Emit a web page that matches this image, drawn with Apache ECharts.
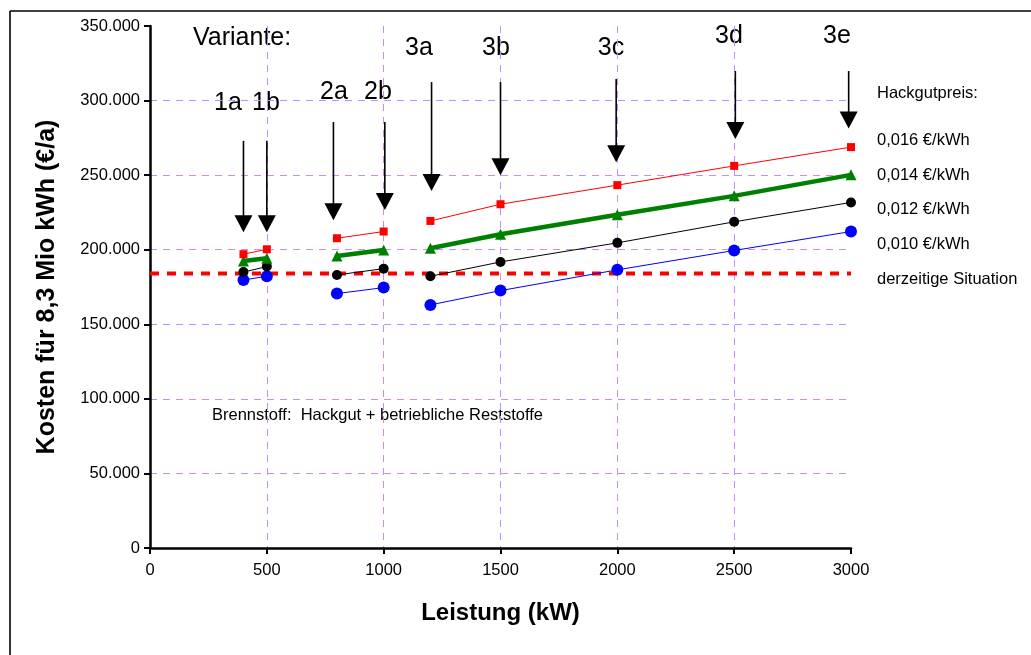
<!DOCTYPE html>
<html>
<head>
<meta charset="utf-8">
<script src="https://cdn.jsdelivr.net/npm/echarts@6/dist/echarts.min.js"></script>
<style>
  html, body { margin: 0; padding: 0; background: #ffffff; }
  #chart { width: 1031px; height: 655px; }
</style>
</head>
<body>
<div id="chart"></div>
<script>
// Leistung der Varianten (kW)
const leistung = [400, 500, 800, 1000, 1200, 1500, 2000, 2500, 3000];
// Index, an dem eine neue Variantengruppe beginnt (1x, 2x, 3x)
const gruppenStart = [2, 4];

// Jahreskosten (€/a) je Hackgutpreis
const preis016 = [197000, 200300, 207700, 212200, 219300, 230500, 243300, 256200, 268800];
const preis014 = [192500, 194300, 195800, 199800, 201000, 210400, 223400, 236100, 250200];
const preis012 = [185000, 188700, 183100, 187300, 182200, 191800, 204600, 218700, 231700];
const preis010 = [179700, 182200, 170600, 174600, 163000, 172600, 186500, 199500, 212200];

// derzeitige Situation (€/a)
const situationX = [0, 3000];
const situationKosten = [184000, 184000];

// Variantenpfeile: Leistung, Pfeilanfang, Pfeilspitze (€/a)
const variantenNamen = ['1a', '1b', '2a', '2b', '3a', '3b', '3c', '3d', '3e'];
const pfeilX = [400, 500, 785, 1005, 1205, 1500, 1995, 2505, 2990];
const pfeilOben = [273000, 273000, 285600, 285600, 312400, 312400, 314400, 319800, 319800];
const pfeilSpitze = [211700, 211700, 219800, 226700, 239300, 250000, 258700, 274200, 281200];

const legendenTexte = ['Hackgutpreis:', '0,016 €/kWh', '0,014 €/kWh', '0,012 €/kWh', '0,010 €/kWh', 'derzeitige Situation'];
const hinweisText = 'Brennstoff:  Hackgut + betriebliche Reststoffe';
const xTitel = 'Leistung (kW)';
const yTitel = 'Kosten für 8,3 Mio kWh (€/a)';

// Pixelpositionen der Beschriftungen
const variantenPos = [[228, 103], [266, 103], [334, 92], [378, 92], [419, 48], [496, 48], [611, 48], [729, 36], [837, 36]];
const legendenY = [93, 140, 175, 209, 244, 279];

const FONT = '"Liberation Sans", Arial, sans-serif';

function mitLuecken(werte) {
  const out = [];
  werte.forEach((v, i) => {
    if (gruppenStart.includes(i)) out.push([(leistung[i - 1] + leistung[i]) / 2, null]);
    out.push([leistung[i], v]);
  });
  return out;
}

function tausender(v) {
  return String(v).replace(/\B(?=(\d{3})+(?!\d))/g, '.');
}

const chart = echarts.init(document.getElementById('chart'), null, { renderer: 'canvas' });

const gridLine = { show: true, lineStyle: { color: '#c38cff', width: 1, type: [7, 6] }, showMaxLine: false };

const graphics = [
  { type: 'line', shape: { x1: 10, y1: 11, x2: 10, y2: 655 }, style: { stroke: '#000', lineWidth: 1.6 } },
  { type: 'line', shape: { x1: 10, y1: 11, x2: 1031, y2: 11 }, style: { stroke: '#000', lineWidth: 1.6 } },
  { type: 'text', x: 193, y: 38, style: { text: 'Variante:', font: '25px ' + FONT, fill: '#000', verticalAlign: 'middle' } },
  { type: 'text', x: 212, y: 415, style: { text: hinweisText, font: '16.5px ' + FONT, fill: '#000', verticalAlign: 'middle' } }
];
variantenNamen.forEach((n, i) => {
  graphics.push({ type: 'text', x: variantenPos[i][0], y: variantenPos[i][1],
    style: { text: n, font: '25px ' + FONT, fill: '#000', align: 'center', verticalAlign: 'middle' } });
});
legendenTexte.forEach((t, i) => {
  graphics.push({ type: 'text', x: 877, y: legendenY[i],
    style: { text: t, font: '16.5px ' + FONT, fill: '#000', verticalAlign: 'middle' } });
});

function linienSerie(name, werte, farbe, breite, symbol, groesse) {
  return {
    name, type: 'line', data: mitLuecken(werte), connectNulls: false,
    symbol, symbolSize: groesse, showSymbol: true,
    lineStyle: { color: farbe, width: breite },
    itemStyle: { color: farbe, borderWidth: 0 },
    emphasis: { disabled: true }, z: 3
  };
}

chart.setOption({
  animation: false,
  backgroundColor: '#ffffff',
  textStyle: { fontFamily: FONT },
  grid: { left: 150, right: 180, top: 26, bottom: 107 },
  xAxis: {
    type: 'value', min: 0, max: 3000, interval: 500,
    axisLine: { show: true, lineStyle: { color: '#000', width: 2.5 } },
    axisTick: { show: true, length: 6, lineStyle: { color: '#000', width: 2 } },
    axisLabel: { color: '#000', fontSize: 16.5, margin: 14, fontFamily: FONT, formatter: (v) => String(v) },
    splitLine: gridLine,
    name: xTitel, nameLocation: 'middle', nameGap: 53,
    nameTextStyle: { color: '#000', fontSize: 24, fontWeight: 'bold', fontFamily: FONT }
  },
  yAxis: {
    type: 'value', min: 0, max: 350000, interval: 50000,
    axisLine: { show: true, lineStyle: { color: '#000', width: 2.5 } },
    axisTick: { show: true, length: 6, lineStyle: { color: '#000', width: 2 } },
    axisLabel: { color: '#000', fontSize: 16.5, margin: 10, fontFamily: FONT, formatter: tausender },
    splitLine: gridLine,
    name: yTitel, nameLocation: 'middle', nameGap: 90, nameRotate: 90,
    nameTextStyle: { color: '#000', fontSize: 25, fontWeight: 'bold', fontFamily: FONT }
  },
  graphic: graphics,
  series: [
    {
      name: 'derzeitige Situation', type: 'line',
      data: situationX.map((x, i) => [x, situationKosten[i]]),
      symbol: 'none', lineStyle: { color: '#ff0000', width: 4, type: [9, 8] },
      emphasis: { disabled: true }, z: 2
    },
    linienSerie('0,010 €/kWh', preis010, '#0000ff', 1, 'circle', 12),
    linienSerie('0,012 €/kWh', preis012, '#000000', 1, 'circle', 10),
    linienSerie('0,014 €/kWh', preis014, '#008000', 4.5, 'triangle', 11),
    linienSerie('0,016 €/kWh', preis016, '#ff0000', 1, 'rect', 8),
    {
      name: 'Varianten', type: 'custom',
      data: pfeilX.map((x, i) => [x, pfeilOben[i], pfeilSpitze[i]]),
      encode: { x: 0, y: [1, 2] },
      clip: false, z: 4,
      renderItem(params, api) {
        const a = api.coord([api.value(0), api.value(1)]);
        const b = api.coord([api.value(0), api.value(2)]);
        const h = 17, w = 9;
        return {
          type: 'group',
          children: [
            { type: 'line', shape: { x1: a[0], y1: a[1], x2: b[0], y2: b[1] - h + 1 },
              style: { stroke: '#000', lineWidth: 1.6 } },
            { type: 'polygon', shape: { points: [[b[0] - w, b[1] - h], [b[0] + w, b[1] - h], [b[0], b[1]]] },
              style: { fill: '#000' } }
          ]
        };
      }
    }
  ]
});
</script>
</body>
</html>
